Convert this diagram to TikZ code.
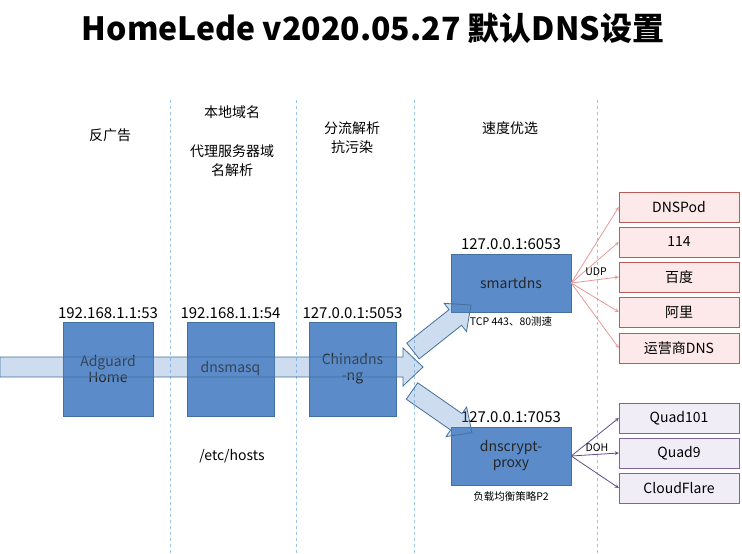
\documentclass[tikz,border=0pt]{standalone}
\usepackage{fontspec}
\setmainfont{Noto Sans CJK SC}
\usetikzlibrary{positioning}
\definecolor{boxblue}{HTML}{5B8BC9}
\definecolor{boxline}{HTML}{41719C}
\definecolor{sepline}{HTML}{9DC3E6}
\definecolor{pinkfill}{HTML}{FDE9E9}
\definecolor{pinkline}{HTML}{B85C5A}
\definecolor{pinkarrow}{HTML}{E39A9A}
\definecolor{lilafill}{HTML}{F1EDF7}
\definecolor{lilaline}{HTML}{8064A2}
\definecolor{lilaarrow}{HTML}{5F4B8B}
\tikzset{
  server/.style={rectangle, draw=boxline, fill=boxblue, text=black!85, align=center, font=\fontsize{14}{16}\selectfont},
  addr/.style={font=\fontsize{15}{17}\selectfont},
  role/.style={align=center, font=\fontsize{14}{19}\selectfont},
  small/.style={font=\fontsize{10.5}{12}\selectfont},
  upstream/.style={rectangle, draw=pinkline, fill=pinkfill, minimum width=120, minimum height=30, font=\fontsize{14}{16}\selectfont},
  dohserver/.style={rectangle, draw=lilaline, fill=lilafill, minimum width=120, minimum height=30, font=\fontsize{14}{16}\selectfont},
  blockarrow/.style={draw=boxline, fill=boxblue, fill opacity=0.3, line width=0.8pt},
  sep/.style={draw=sepline, dashed, line width=0.6pt}
}
\begin{document}
\begin{tikzpicture}[x=1pt, y=-1pt]
	\useasboundingbox (0,0) rectangle (742,554);
	\node[font=\fontsize{32}{36}\selectfont\bfseries] (title) at (373,28) {HomeLede v2020.05.27 默认DNS设置};

	% stage separators
	\foreach \x in {170,296,414,597}
		\draw[sep] (\x,100) -- (\x,554);

	\node[role] (r1) at (110,135) {反广告};
	\node[role] (r2) at (232,112) {本地域名};
	\node[role] (r3) at (232,161) {代理服务器域\\名解析};
	\node[role] (r4) at (352,138) {分流解析\\抗污染};
	\node[role] (r5) at (510,128) {速度优选};

	\node[server, minimum width=90, minimum height=94] (adg) at (108,369) {Adguard\\Home};
	\node[server, minimum width=87, minimum height=94] (dnsm) at (230.5,369) {dnsmasq};
	\node[server, minimum width=87, minimum height=94] (china) at (352.5,369) {Chinadns\\-ng};
	\node[server, minimum width=120, minimum height=58] (smart) at (511,283) {smartdns};
	\node[server, minimum width=120, minimum height=58] (crypt) at (511,456) {dnscrypt-\\proxy};

	\node[addr, above=0pt of adg] {192.168.1.1:53};
	\node[addr, above=0pt of dnsm] {192.168.1.1:54};
	\node[addr, above=0pt of china] {127.0.0.1:5053};
	\node[addr, above=1pt of smart] {127.0.0.1:6053};
	\node[addr, above=1pt of crypt] {127.0.0.1:7053};
	\node[role] (hosts) at (232,456) {/etc/hosts};
	\node[small, below=1pt of smart] (tcp) {TCP 443、80测速};
	\node[small, below=3pt of crypt] (lb) {负载均衡策略P2};

	% query flow
	\draw[blockarrow] (0,357) -- (403,357) -- (403,348) -- (423,367) -- (403,386) -- (403,377) -- (0,377) -- cycle;
	\begin{scope}[shift={(413,351)}, rotate=38.4]
		\draw[blockarrow] (0,-10) -- (54,-10) -- (54,-18) -- (74,0) -- (54,18) -- (54,10) -- (0,10) -- cycle;
	\end{scope}
	\begin{scope}[shift={(412,391)}, rotate=-34.8]
		\draw[blockarrow] (0,-10) -- (54,-10) -- (54,-18) -- (73,0) -- (54,18) -- (54,10) -- (0,10) -- cycle;
	\end{scope}

	\node[upstream] (p1) at (679,207) {DNSPod};
	\node[upstream] (p2) at (679,242) {114};
	\node[upstream] (p3) at (679,277) {百度};
	\node[upstream] (p4) at (679,312) {阿里};
	\node[upstream] (p5) at (679,348) {运营商DNS};
	\foreach \i in {1,...,5}
		\draw[pinkarrow, -stealth, line width=0.8pt] (smart.east) -- (p\i.west);
	\node[small] (udp) at (596,272) {UDP};

	\node[dohserver] (q1) at (679,418) {Quad101};
	\node[dohserver] (q2) at (679,453) {Quad9};
	\node[dohserver] (q3) at (679,488) {CloudFlare};
	\foreach \i in {1,2,3}
		\draw[lilaarrow, -stealth, line width=0.8pt] (crypt.east) -- (q\i.west);
	\node[small] (doh) at (597,448) {DOH};
\end{tikzpicture}
\end{document}
